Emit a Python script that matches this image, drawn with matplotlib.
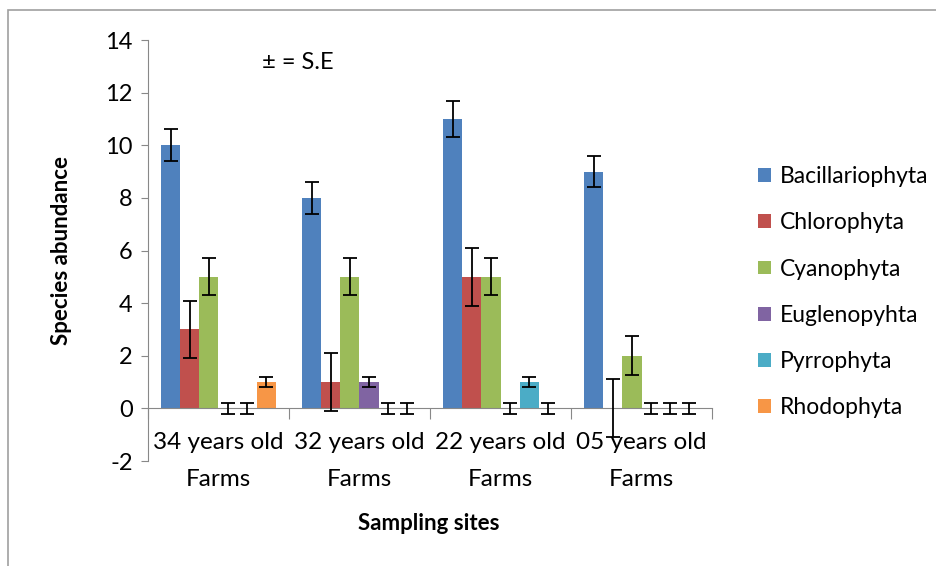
import matplotlib
matplotlib.use("Agg")
import matplotlib.pyplot as plt
import numpy as np
from matplotlib.patches import Rectangle

plt.rcParams['font.family'] = ['Lato', 'DejaVu Sans']
plt.rcParams['axes.unicode_minus'] = False

sites = ["34 years old\nFarms", "32 years old\nFarms", "22 years old\nFarms", "05 years old\nFarms"]
phyla = ["Bacillariophyta", "Chlorophyta", "Cyanophyta", "Euglenopyhta", "Pyrrophyta", "Rhodophyta"]
colors = ["#4F81BD", "#C0504D", "#9BBB59", "#8064A2", "#4BACC6", "#F79646"]

bac = [10, 8, 11, 9]
chl = [3, 1, 5, 0]
cya = [5, 5, 5, 2]
eug = [0, 1, 0, 0]
pyr = [0, 0, 1, 0]
rho = [1, 0, 0, 0]

bac_se = [0.6, 0.6, 0.7, 0.6]
chl_se = [1.1, 1.1, 1.1, 1.1]
cya_se = [0.7, 0.7, 0.7, 0.75]
eug_se = [0.2, 0.2, 0.2, 0.2]
pyr_se = [0.2, 0.2, 0.2, 0.2]
rho_se = [0.2, 0.2, 0.2, 0.2]

values = [bac, chl, cya, eug, pyr, rho]
errors = [bac_se, chl_se, cya_se, eug_se, pyr_se, rho_se]

fig = plt.figure(figsize=(9.36, 5.66), dpi=100)
ax = fig.add_axes([0.1581, 0.1855, 0.6026, 0.7438])

x = np.arange(len(sites))
w = 1 / 7.4
for i, (vals, errs) in enumerate(zip(values, errors)):
    pos = x + (i - 2.5) * w
    ax.bar(pos, vals, width=w, color=colors[i], label=phyla[i], zorder=2)
    ax.errorbar(pos, vals, yerr=errs, fmt='none', ecolor='black',
                elinewidth=1.3, capsize=5, capthick=1.3, zorder=3)

ax.set_xlim(-0.5, 3.5)
ax.set_ylim(-2, 14)
ax.set_yticks(range(-2, 15, 2))
ax.tick_params(axis='y', labelsize=17, length=5, pad=6, color='#888888', direction='out')

ax.spines['top'].set_visible(False)
ax.spines['right'].set_visible(False)
ax.spines['bottom'].set_position(('data', 0))
ax.spines['bottom'].set_color('#888888')
ax.spines['left'].set_color('#888888')

ax.set_xticks(np.arange(-0.5, 3.6, 1))
ax.set_xticklabels([])
ax.tick_params(axis='x', which='major', length=8, color='#888888')
ax.set_xticks(x, minor=True)
ax.set_xticklabels(sites, minor=True, fontsize=17.5, linespacing=1.95)
ax.tick_params(axis='x', which='minor', length=0, pad=17)

ax.set_ylabel("Species abundance", fontsize=16, fontweight='bold', labelpad=24)
fig.text(0.458, 1 - 523 / 566, "Sampling sites", fontsize=16, fontweight='bold',
         ha='center', va='center')
ax.text(0.31, 13.15, "± = S.E", fontsize=17, va='center')

fig.legend(loc='upper left', bbox_to_anchor=(749 / 936, 1 - 157 / 566),
           frameon=False, fontsize=16.5, handlelength=0.55, handleheight=0.55,
           handletextpad=0.4, labelspacing=1.1, borderaxespad=0)

fig.patches.append(Rectangle((8 / 936, -0.1), 1.2, 1.1 - 10 / 566,
                             transform=fig.transFigure, fill=False,
                             edgecolor='#a0a0a0', linewidth=1.2))

fig.savefig("out.png", dpi=100)
